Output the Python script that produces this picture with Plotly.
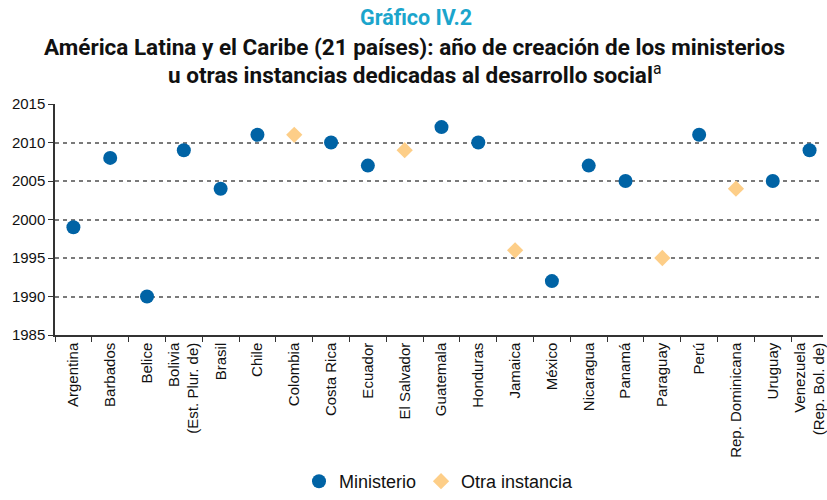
import plotly.graph_objects as go

# Countries (x categories) and year of creation of the social development body
countries = [
    "Argentina", "Barbados", "Belice", "Bolivia<br>(Est. Plur. de)", "Brasil",
    "Chile", "Colombia", "Costa Rica", "Ecuador", "El Salvador", "Guatemala",
    "Honduras", "Jamaica", "México", "Nicaragua", "Panamá", "Paraguay", "Perú",
    "Rep. Dominicana", "Uruguay", "Venezuela<br>(Rep. Bol. de)",
]

ministerio_countries = [
    "Argentina", "Barbados", "Belice", "Bolivia<br>(Est. Plur. de)", "Brasil",
    "Chile", "Costa Rica", "Ecuador", "Guatemala", "Honduras", "México",
    "Nicaragua", "Panamá", "Perú", "Uruguay", "Venezuela<br>(Rep. Bol. de)",
]
ministerio_years = [1999, 2008, 1990, 2009, 2004, 2011, 2010, 2007, 2012, 2010,
                    1992, 2007, 2005, 2011, 2005, 2009]

otra_countries = ["Colombia", "El Salvador", "Jamaica", "Paraguay", "Rep. Dominicana"]
otra_years = [2011, 2009, 1996, 1995, 2004]

y_ticks = [1985, 1990, 1995, 2000, 2005, 2010, 2015]

FONT = "Liberation Sans, Arial, sans-serif"
TITLE_FONT = "Roboto, Liberation Sans, sans-serif"

LEFT, TOP, BOTTOM = 55, 104, 165
W, H = 827, 500
PLOT_H = H - TOP - BOTTOM


def paper_y(px):
    """Convert a pixel row of the page into paper y coordinates."""
    return 1 + (TOP - px) / PLOT_H


def paper_x(px):
    return (px - LEFT) / (W - LEFT)


fig = go.Figure()
fig.add_trace(go.Scatter(
    x=ministerio_countries, y=ministerio_years, mode="markers", name="Ministerio",
    marker=dict(symbol="circle", size=14, color="#0063A5"),
))
fig.add_trace(go.Scatter(
    x=otra_countries, y=otra_years, mode="markers", name="Otra instancia",
    marker=dict(symbol="diamond", size=12.5, color="#FDCE88"),
))

x_end = (W - LEFT) / 37.0 - 0.5

fig.update_layout(
    width=W, height=H,
    margin=dict(l=LEFT, r=0, t=TOP, b=BOTTOM),
    paper_bgcolor="white", plot_bgcolor="white",
    font=dict(family=FONT, size=15, color="#111111"),
    showlegend=True,
    legend=dict(orientation="h", x=0.5, xanchor="center", xref="paper",
                y=0.0, yref="container", yanchor="bottom",
                font=dict(size=18, color="#111111"), itemwidth=30,
                tracegroupgap=0),
    annotations=[
        dict(text="<b>Gráfico IV.2</b>", x=paper_x(418), y=paper_y(18),
             xref="paper", yref="paper", yanchor="middle", showarrow=False,
             font=dict(family=TITLE_FONT, size=21.5, color="#1BA5CC")),
        dict(text="<b>América Latina y el Caribe (21 países): año de creación de los ministerios</b>",
             x=paper_x(416), y=paper_y(47), xref="paper", yref="paper",
             yanchor="middle", showarrow=False,
             font=dict(family=TITLE_FONT, size=22.5, color="#111111")),
        dict(text="<b>u otras instancias dedicadas al desarrollo social</b><sup>a</sup>",
             x=paper_x(416), y=paper_y(73), xref="paper", yref="paper",
             yanchor="middle", showarrow=False,
             font=dict(family=TITLE_FONT, size=22.5, color="#111111")),
    ],
)

fig.update_xaxes(
    type="category", categoryorder="array", categoryarray=countries,
    range=[-0.5, x_end], tickangle=-90, tickson="boundaries",
    ticks="outside", ticklen=5, tickcolor="#333333",
    showline=True, linecolor="#333333", linewidth=1.5,
    showgrid=False, tickfont=dict(size=15, color="#111111"),
)
fig.update_yaxes(
    range=[1985, 2015], tickvals=y_ticks, ticks="outside", ticklen=5,
    tickcolor="#333333", showline=True, linecolor="#333333", linewidth=1.5,
    showgrid=True, gridcolor="#7a7a7a", gridwidth=1.6, griddash="4px,4px",
    zeroline=False, tickfont=dict(size=15, color="#111111"),
)

fig.write_html("out.html")
